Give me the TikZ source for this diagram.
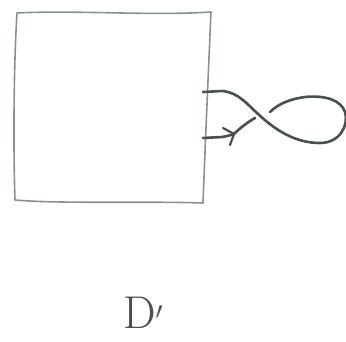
\documentclass[tikz,border=0pt]{standalone}
\usetikzlibrary{arrows.meta}
\definecolor{pencil}{HTML}{8A9196}
\definecolor{ink}{HTML}{4A4E52}
\tikzset{
  boxline/.style={draw=pencil, line width=1.6pt, line cap=round, line join=round},
  strand/.style={draw=ink, line width=2.6pt, line cap=round, line join=round},
}
\begin{document}
\begin{tikzpicture}[x=1pt,y=-1pt]
\useasboundingbox (0,0) rectangle (346,342);
% box
\coordinate (tl) at (17,13);
\coordinate (tr) at (211,12);
\coordinate (br) at (203,203);
\coordinate (bl) at (15,200);
\draw[boxline] (tl) .. controls (80,10) and (150,16) .. (tr)
  .. controls (208,80) and (205,150) .. (br)
  .. controls (140,201) and (60,204) .. (bl)
  .. controls (13,140) and (14,60) .. (tl);
% strand
\coordinate (a) at (203,92);
\coordinate (b) at (203,138);
\coordinate (u1) at (270,112);
\coordinate (u2) at (255,118);
\coordinate (tip) at (234,134);
\draw[strand] (a) -- (222,91) .. controls (238,92) and (248,105) .. (257,113)
  .. controls (275,130) and (295,143) .. (320,143)
  .. controls (340,143) and (349,125) .. (345,112)
  .. controls (341,100) and (325,95) .. (305,97)
  .. controls (290,99) and (278,104) .. (u1);
\draw[strand] (u2) .. controls (248,122) and (240,128) .. (tip);
\draw[strand] (b) -- (222,137) .. controls (228,136) and (231,135) .. (tip);
\draw[strand, line width=2.2pt] (223,128) -- (tip) -- (230,145);
% label
\node[font=\fontsize{46}{46}\selectfont, text=ink, inner sep=0pt] (lab) at (143,313) {D$'$};
\end{tikzpicture}
\end{document}
